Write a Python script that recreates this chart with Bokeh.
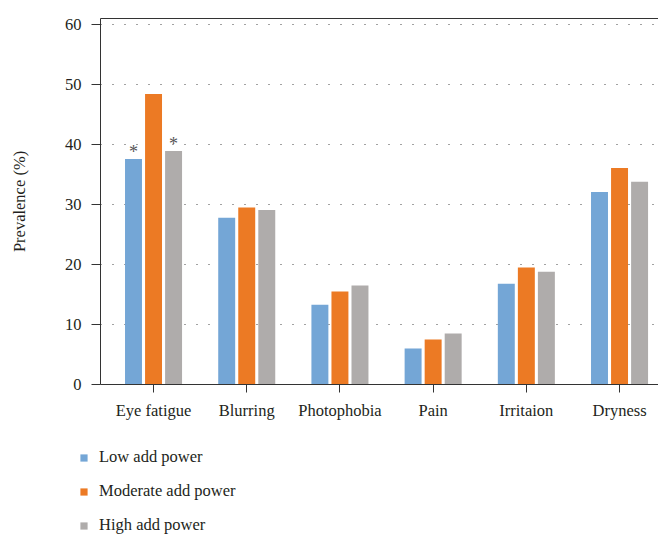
import numpy as np
from bokeh.plotting import figure
from bokeh.models import ColumnDataSource, Legend, LegendItem, FixedTicker, Range1d, LinearAxis
from bokeh.embed import file_html
from bokeh.resources import INLINE
from bokeh.core.properties import value

categories = ["Eye fatigue", "Blurring", "Photophobia", "Pain", "Irritaion", "Dryness"]
low = [37.6, 27.8, 13.3, 6.0, 16.8, 32.1]
moderate = [48.4, 29.5, 15.5, 7.5, 19.5, 36.1]
high = [38.9, 29.1, 16.5, 8.5, 18.8, 33.8]
series_names = ["Low add power", "Moderate add power", "High add power"]
series_colors = ["#74A6D6", "#EC7A24", "#AFACAB"]
star_low = ["*", "", "", "", "", ""]
star_high = ["*", "", "", "", "", ""]
y_ticks = [0, 10, 20, 30, 40, 50, 60]

FONT = "Liberation Serif"
TXT = "#231F20"
BAR_W = 0.182
OFFSET = 0.215
X_LO, X_HI = -0.569, 5.418   # visible axis extent
Y_LO, Y_HI = 0, 61

idx = np.arange(len(categories))
src = ColumnDataSource(dict(
    x_low=idx - OFFSET, x_mod=idx, x_high=idx + OFFSET,
    low=low, moderate=moderate, high=high,
    star_low=star_low, star_high=star_high,
))

# frame covers the whole canvas; axes are pinned with fixed_location
p = figure(frame_width=658, frame_height=538,
           x_range=Range1d(-1.642, X_HI), y_range=Range1d(-25.67, 64.0),
           output_backend="svg", toolbar_location=None,
           min_border_left=0, min_border_right=0, min_border_top=0, min_border_bottom=0)
p.outline_line_color = None
p.background_fill_color = "white"
p.border_fill_color = "white"

r_low = p.vbar(x="x_low", top="low", width=BAR_W, source=src, color=series_colors[0], line_color=None)
r_mod = p.vbar(x="x_mod", top="moderate", width=BAR_W, source=src, color=series_colors[1], line_color=None)
r_high = p.vbar(x="x_high", top="high", width=BAR_W, source=src, color=series_colors[2], line_color=None)

p.text(x="x_low", y="low", text="star_low", source=src, text_align="center", y_offset=-7,
       text_baseline="alphabetic", text_font=value(FONT), text_font_size="18px", text_color="#555555")
p.text(x="x_high", y="high", text="star_high", source=src, text_align="center", y_offset=-7,
       text_baseline="alphabetic", text_font=value(FONT), text_font_size="18px", text_color="#555555")

# grid
p.xgrid.grid_line_color = None
p.ygrid.ticker = FixedTicker(ticks=y_ticks[1:])
p.ygrid.grid_line_color = "#444444"
p.ygrid.grid_line_dash = "1 11"
p.ygrid.grid_line_width = 1
g = p.ygrid[0]
if "cross_bounds" in g.properties():
    g.cross_bounds = (X_LO, X_HI)

# x axis
p.xaxis.fixed_location = Y_LO
p.xaxis.bounds = (X_LO, X_HI)
p.xaxis.ticker = FixedTicker(ticks=list(idx))
p.xaxis.major_label_overrides = {int(i): c for i, c in zip(idx, categories)}
p.xaxis.major_tick_in = 0
p.xaxis.major_tick_out = 8
p.xaxis.minor_tick_line_color = None
p.xaxis.axis_line_color = "#333333"
p.xaxis.major_tick_line_color = "#333333"
p.xaxis.major_label_standoff = 9
p.xaxis.major_label_text_font = FONT
p.xaxis.major_label_text_font_size = "16.5px"
p.xaxis.major_label_text_color = TXT

# y axis
p.yaxis.fixed_location = X_LO
p.yaxis.bounds = (Y_LO, Y_HI)
p.yaxis.ticker = FixedTicker(ticks=y_ticks)
p.yaxis.major_tick_in = 0
p.yaxis.major_tick_out = 9
p.yaxis.minor_tick_line_color = None
p.yaxis.axis_line_color = "#333333"
p.yaxis.major_tick_line_color = "#333333"
p.yaxis.major_label_standoff = 10
p.yaxis.major_label_text_font = FONT
p.yaxis.major_label_text_font_size = "16.5px"
p.yaxis.major_label_text_color = TXT
p.yaxis.axis_label = "Prevalence (%)"
p.yaxis.axis_label_text_font = FONT
p.yaxis.axis_label_text_font_size = "16.5px"
p.yaxis.axis_label_text_font_style = "normal"
p.yaxis.axis_label_text_color = TXT
p.yaxis.axis_label_standoff = 33

# top border line
top_axis = LinearAxis(ticker=FixedTicker(ticks=[]), major_tick_line_color=None,
                      minor_tick_line_color=None, major_label_text_font_size="0px",
                      axis_line_color="#333333", fixed_location=Y_HI, bounds=(X_LO, X_HI))
p.add_layout(top_axis, "above")

legend = Legend(items=[
    LegendItem(label=series_names[0], renderers=[r_low]),
    LegendItem(label=series_names[1], renderers=[r_mod]),
    LegendItem(label=series_names[2], renderers=[r_high]),
], location=(79, 3), orientation="vertical",
    glyph_width=9, glyph_height=9, label_standoff=11, spacing=14, label_height=18,
    label_text_font=FONT, label_text_font_size="16.5px", label_text_color=TXT,
    border_line_color=None, background_fill_alpha=0, padding=0, margin=0)
p.add_layout(legend, "center")

open("out.html", "w").write(file_html(p, INLINE))
